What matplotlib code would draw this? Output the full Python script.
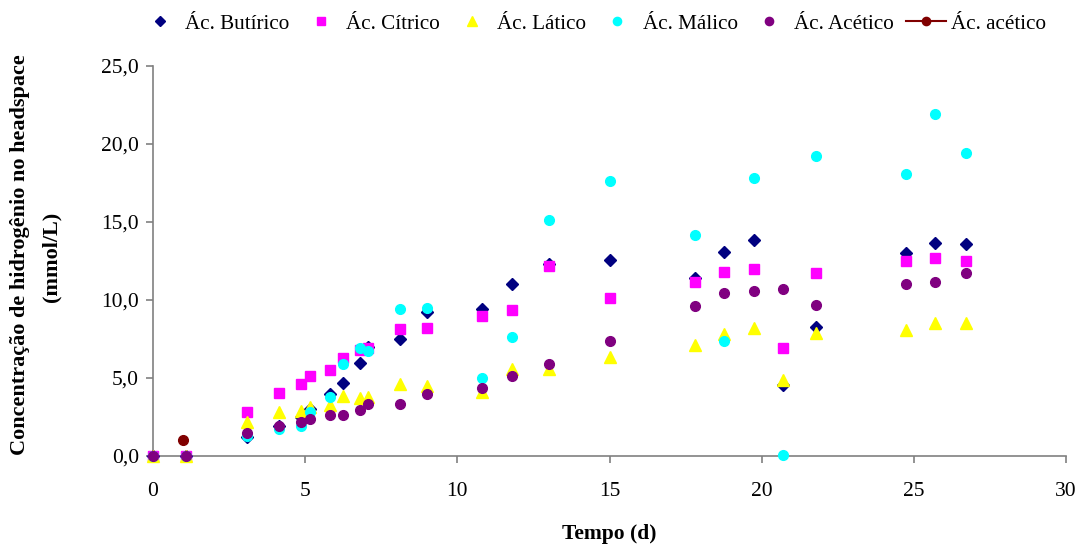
import matplotlib
matplotlib.use("Agg")
import matplotlib.pyplot as plt
from matplotlib.transforms import Bbox, TransformedBbox

plt.rcParams["font.family"] = ["Liberation Serif", "DejaVu Serif"]

# tempo (d) de cada coleta
tempo = [0, 1.1, 3.1, 4.15, 4.85, 5.15, 5.8, 6.25, 6.8, 7.05, 8.1, 9.0,
         10.8, 11.8, 13.0, 15.0, 17.8, 18.75, 19.75, 20.7, 21.8, 24.75, 25.7, 26.7]

butirico = [0, 0, 1.2, 1.9, 2.5, 3.0, 3.95, 4.65, 5.95, 7.0, 7.5, 9.2,
            9.4, 11.05, 12.3, 12.55, 11.4, 13.05, 13.85, 4.55, 8.25, 13.0, 13.65, 13.6]
citrico = [0, 0, 2.8, 4.05, 4.6, 5.15, 5.5, 6.25, 6.8, 6.95, 8.15, 8.2,
           9.0, 9.35, 12.2, 10.15, 11.15, 11.8, 12.0, 6.9, 11.75, 12.5, 12.7, 12.5]
latico = [0, 0, 2.2, 2.8, 2.9, 3.15, 3.3, 3.85, 3.7, 3.75, 4.6, 4.5,
          4.1, 5.55, 5.55, 6.35, 7.1, 7.8, 8.2, 4.85, 7.9, 8.1, 8.55, 8.55]
malico = [0, 0, 1.3, 1.7, 1.95, 2.8, 3.8, 5.9, 6.9, 6.75, 9.45, 9.5,
          5.0, 7.6, 15.1, 17.6, 14.15, 7.35, 17.8, 0.05, 19.25, 18.1, 21.9, 19.45]
acetico = [0, 0, 1.45, 1.95, 2.15, 2.35, 2.6, 2.6, 2.95, 3.35, 3.35, 3.95,
           4.35, 5.1, 5.9, 7.35, 9.6, 10.45, 10.6, 10.7, 9.7, 11.05, 11.15, 11.7]
tempo_acetico2 = [1.0]
acetico2 = [1.05]

nomes = ["Ác. Butírico", "Ác. Cítrico", "Ác. Lático", "Ác. Málico",
         "Ác. Acético", "Ác. acético"]

fig = plt.figure(figsize=(10.76, 5.44), dpi=100)
ax = fig.add_axes([0.1422, 0.1618, 0.8485, 0.7169])

ax.plot(tempo, butirico, ls="none", marker="D", ms=6.3, color="#000080",
        label=nomes[0])
ax.plot(tempo, citrico, ls="none", marker="s", ms=6.8, color="#FF00FF",
        label=nomes[1])
ax.plot(tempo, latico, ls="none", marker="^", ms=8, color="#FFFF00",
        label=nomes[2])
ax.plot(tempo, malico, ls="none", marker="o", ms=7, color="#00FFFF",
        label=nomes[3])
ax.plot(tempo, acetico, ls="none", marker="o", ms=7, color="#800080",
        label=nomes[4])
ax.plot(tempo_acetico2, acetico2, ls="-", lw=1.5, marker="o", ms=7,
        color="#800000", label=nomes[5])

ax.set_xlim(0, 30)
ax.set_ylim(0, 25)
ax.set_xticks(range(0, 31, 5))
ax.set_yticks([0, 5, 10, 15, 20, 25])
ax.set_yticklabels(["0,0", "5,0", "10,0", "15,0", "20,0", "25,0"])
for s in ("top", "right"):
    ax.spines[s].set_visible(False)
for s in ("left", "bottom"):
    ax.spines[s].set_color("#808080")
    ax.spines[s].set_linewidth(1.2)
    ax.spines[s].set_zorder(0)
ax.tick_params(direction="out", length=5, width=1.2, color="#808080",
               labelsize=15.5)
ax.tick_params(axis="x", pad=14)
ax.tick_params(axis="y", pad=5)
for l in ax.get_xticklabels() + ax.get_yticklabels():
    l.set_clip_on(False)
for ln in ax.lines:
    ln.set_clip_on(False)

ax.set_xlabel("Tempo (d)", fontsize=15.5, fontweight="bold", labelpad=16.5)

# y label (cortado no topo como no original)
clip = TransformedBbox(Bbox([[0, 0], [1, 1 - 55 / 544]]), fig.transFigure)
t1 = fig.text(20 / 1076, 1 - 455 / 544, "Concentração de hidrogênio no headspace",
              rotation=90, ha="center", va="bottom", fontsize=16,
              fontweight="bold")
t1.set_clip_box(clip)
t1.set_clip_on(True)
fig.text(51 / 1076, 1 - 257 / 544, "(mmol/L)", rotation=90, ha="center",
         va="center", fontsize=16, fontweight="bold")

fig.legend(loc="upper left", bbox_to_anchor=(140 / 1076, 1 - 14 / 544), ncol=6,
           frameon=False, fontsize=15.2, handlelength=1.9, handletextpad=0.24,
           columnspacing=0.55, borderaxespad=0, borderpad=0, markerscale=0.85)

fig.savefig("out.png", dpi=100)
